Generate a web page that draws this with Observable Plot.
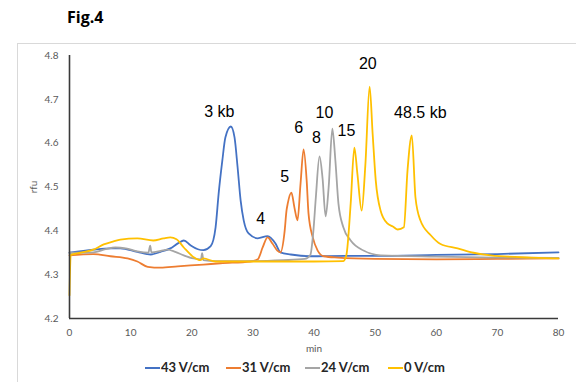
<!DOCTYPE html>
<html>
<head>
<meta charset="utf-8">
<script src="https://cdn.jsdelivr.net/npm/d3@7"></script>
<script src="https://cdn.jsdelivr.net/npm/@observablehq/plot@0.6"></script>
<style>
  html, body { margin: 0; padding: 0; background: #fff; }
  body { width: 576px; height: 382px; position: relative; overflow: hidden; font-family: "Liberation Sans", Arial, sans-serif; }
  #title { position: absolute; left: 67px; top: 6px; font-family: "Open Sans", sans-serif; font-weight: 700; font-size: 16px; color: #000; }
  #frame { position: absolute; left: 17px; top: 43px; width: 580px; height: 360px; border: 1px solid #d9d9d9; box-sizing: border-box; }
  #chart { position: absolute; left: 0; top: 40px; }
  #legend { position: absolute; left: 0; top: 358px; width: 576px; height: 18px; }
  .item { position: absolute; top: 0; height: 18px; line-height: 18px; font-family: Lato, "Open Sans", sans-serif; font-weight: 700; font-size: 13px; color: #262626; white-space: nowrap; }
  .sw { display: inline-block; width: 15px; height: 2px; vertical-align: middle; margin-right: 1px; position: relative; top: -1px; }
</style>
</head>
<body>
<div id="title">Fig.4</div>
<div id="frame"></div>
<div id="chart"></div>
<div id="legend"></div>
<script>
// ---- data ----
const seriesNames = ["43 V/cm", "31 V/cm", "24 V/cm", "0 V/cm"];
const seriesColors = ["#4472C4", "#ED7D31", "#A5A5A5", "#FFC000"];

// [time (min), rfu]
const v43 = [
  [0, 4.350], [3.9, 4.357], [6.7, 4.360], [8.3, 4.360], [11.1, 4.352], [13.3, 4.346],
  [14.9, 4.352], [16.5, 4.360], [17.8, 4.372], [18.7, 4.378], [19.8, 4.367], [21.0, 4.358],
  [21.9, 4.356], [23.1, 4.365], [23.9, 4.408], [24.4, 4.485], [25.0, 4.560], [25.5, 4.613],
  [26.4, 4.638], [27.0, 4.613], [27.5, 4.545], [28.0, 4.469], [28.5, 4.424], [29.3, 4.394],
  [30.8, 4.383], [32.4, 4.388], [33.7, 4.371], [34.5, 4.351], [36.2, 4.346], [39.4, 4.342],
  [45, 4.343], [50, 4.343], [60, 4.345], [70, 4.347], [80, 4.351]
];
const v31 = [
  [0, 4.344], [3.9, 4.347], [6.7, 4.342], [9.5, 4.337], [11.1, 4.330], [12.8, 4.318],
  [14.9, 4.316], [17.7, 4.319], [21.9, 4.323], [24.7, 4.326], [29.6, 4.330], [30.8, 4.335],
  [31.6, 4.362], [32.4, 4.385], [33.2, 4.371], [34.0, 4.355], [34.5, 4.351], [35.2, 4.400],
  [35.5, 4.446], [35.7, 4.462], [36.3, 4.487], [36.8, 4.453], [37.3, 4.424], [37.8, 4.508],
  [38.3, 4.586], [38.8, 4.515], [39.1, 4.440], [39.8, 4.385], [40.6, 4.355], [41.6, 4.342],
  [43.9, 4.339], [50, 4.336], [60, 4.335], [70, 4.336], [80, 4.337]
];
const v24 = [
  [0, 4.350], [3.9, 4.351], [5.9, 4.358], [7.5, 4.362], [9.2, 4.360], [11.1, 4.353],
  [12.9, 4.350], [13.2, 4.366], [13.4, 4.351], [14.9, 4.354], [16.0, 4.357], [17.3, 4.352],
  [18.7, 4.344], [20.3, 4.337], [21.5, 4.335], [21.7, 4.349], [21.9, 4.333], [23.9, 4.331],
  [30, 4.331], [35, 4.333], [38.5, 4.336], [39.4, 4.345], [39.9, 4.400], [40.3, 4.476],
  [40.9, 4.570], [41.4, 4.520], [41.9, 4.433], [42.4, 4.500], [43.0, 4.633], [43.5, 4.560],
  [44.0, 4.462], [44.8, 4.408], [46.0, 4.378], [48.1, 4.355], [50.9, 4.344], [60, 4.341],
  [70, 4.339], [80, 4.338]
];
const v0 = [
  [0, 4.253], [0.2, 4.345], [1.8, 4.350], [3.9, 4.357], [5.6, 4.369], [7.2, 4.376],
  [8.3, 4.380], [11.1, 4.383], [13.7, 4.378], [15.4, 4.383], [16.5, 4.385], [17.5, 4.381],
  [18.7, 4.362], [20.3, 4.340], [21.4, 4.333], [21.9, 4.337], [23.9, 4.330], [30, 4.330],
  [40, 4.330], [44.8, 4.331], [45.3, 4.345], [46.0, 4.462], [46.6, 4.590], [47.1, 4.530],
  [47.8, 4.446], [48.4, 4.550], [49.1, 4.729], [49.6, 4.620], [50.1, 4.515], [50.9, 4.446],
  [52.0, 4.417], [52.9, 4.410], [53.7, 4.403], [54.7, 4.408], [55.3, 4.538], [56.0, 4.618],
  [56.6, 4.476], [57.4, 4.424], [59.1, 4.390], [60.7, 4.370], [63.5, 4.360], [66.1, 4.350],
  [68.9, 4.344], [75.5, 4.339], [80, 4.337]
];

const peakLabels = ["3 kb", "4", "5", "6", "8", "10", "15", "20", "48.5 kb"];
const peakX = [24.5, 31.3, 35.2, 37.5, 40.4, 41.7, 45.3, 48.8, 57.4];
const peakY = [4.672, 4.428, 4.524, 4.636, 4.613, 4.670, 4.629, 4.782, 4.668];

const xTicks = [0, 10, 20, 30, 40, 50, 60, 70, 80];
const yTicks = [4.2, 4.3, 4.4, 4.5, 4.6, 4.7, 4.8];

// ---- build tables ----
const allSeries = [v43, v31, v24, v0];
const rows = allSeries.flatMap((s, i) => s.map(([t, v]) => ({t, v, s: seriesNames[i]})));
const labels = peakLabels.map((l, i) => ({l, x: peakX[i], y: peakY[i]}));

const chart = Plot.plot({
  width: 576,
  height: 320,
  marginTop: 15,
  marginBottom: 42,
  marginLeft: 69,
  marginRight: 18,
  style: {fontFamily: "Lato, 'Open Sans', sans-serif", fontSize: "10px", color: "#595959", background: "transparent"},
  x: {domain: [0, 80]},
  y: {domain: [4.2, 4.8]},
  color: {domain: seriesNames, range: seriesColors},
  marks: [
    Plot.axisY({ticks: yTicks, tickSize: 0, tickPadding: 11, tickFormat: d3.format(".1f"),
      label: "rfu", labelAnchor: "center", labelArrow: "none", labelOffset: 40, fontSize: 10}),
    Plot.axisX({ticks: xTicks, tickSize: 0, tickPadding: 10, label: "min", labelAnchor: "center",
      labelArrow: "none", labelOffset: 33, fontSize: 10}),
    Plot.line(rows, {x: "t", y: "v", z: "s", stroke: "s", strokeWidth: 1.8, curve: "monotone-x"}),
    Plot.ruleX([0], {stroke: "#3a3a3a", strokeWidth: 1.6}),
    Plot.ruleY([4.2], {stroke: "#3a3a3a", strokeWidth: 1.6}),
    Plot.text(labels, {x: "x", y: "y", text: "l", fontSize: 16, fill: "#000",
      fontFamily: "'Liberation Sans', Arial, sans-serif", textAnchor: "middle", lineAnchor: "middle"})
  ]
});
document.getElementById("chart").appendChild(chart);

// ---- legend ----
const legendX = [145, 226, 305, 388];
const legend = document.getElementById("legend");
seriesNames.forEach((n, i) => {
  const d = document.createElement("div");
  d.className = "item";
  d.style.left = legendX[i] + "px";
  d.innerHTML = `<span class="sw" style="background:${seriesColors[i]}"></span>${n}`;
  legend.appendChild(d);
});
</script>
</body>
</html>
